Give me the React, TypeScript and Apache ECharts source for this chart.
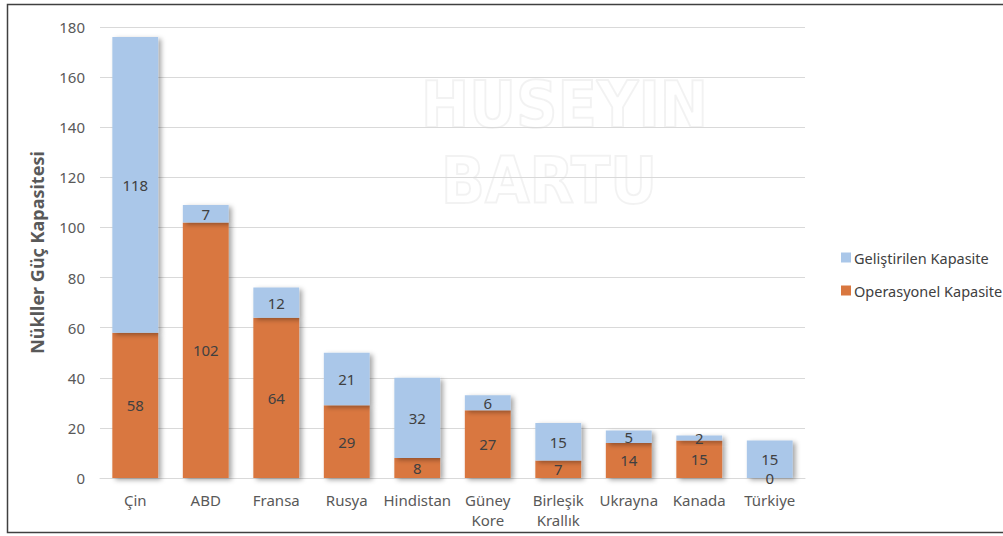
import React, { useEffect, useRef } from "react";
import * as echarts from "echarts";

const categories = ["Çin", "ABD", "Fransa", "Rusya", "Hindistan", "Güney\nKore", "Birleşik\nKrallık", "Ukrayna", "Kanada", "Türkiye"];
const operasyonel = [58, 102, 64, 29, 8, 27, 7, 14, 15, 0];
const gelistirilen = [118, 7, 12, 21, 32, 6, 15, 5, 2, 15];
const yTicks = { min: 0, max: 180, interval: 20 };

const FONT = "'Noto Sans', 'DejaVu Sans', sans-serif";

export default function App() {
  const ref = useRef<HTMLDivElement>(null);
  useEffect(() => {
    document.body.style.margin = "0";
    const chart = echarts.init(ref.current!, null, { renderer: "svg" });
    const shadow = {
      shadowColor: "rgba(0,0,0,0.35)",
      shadowBlur: 5,
      shadowOffsetX: 3,
      shadowOffsetY: 2,
    };
    const label = {
      show: true,
      position: "inside",
      color: "#404040",
      fontSize: 15,
      fontFamily: FONT,
    };
    const wm = {
      fontSize: 64,
      fontWeight: "bold",
      fontFamily: "'Liberation Sans Narrow', 'DejaVu Sans Condensed', sans-serif",
      fill: "rgba(0,0,0,0)",
      stroke: "rgba(0,0,0,0.05)",
      lineWidth: 2,
    };
    chart.setOption({
      animation: false,
      backgroundColor: "#fff",
      textStyle: { fontFamily: FONT },
      grid: { left: 100, right: 198, top: 27, bottom: 58, containLabel: false },
      legend: {
        orient: "vertical",
        left: 836,
        top: 245,
        itemWidth: 10,
        itemHeight: 10,
        itemGap: 18,
        icon: "rect",
        textStyle: { color: "#404040", fontSize: 14.5, fontFamily: FONT, padding: [0, 0, 0, -2] },
        data: ["Geliştirilen Kapasite", "Operasyonel Kapasite"],
      },
      graphic: [
        { type: "text", left: 420, top: 72, silent: true, z: -1, style: { text: "HUSEYIN", ...wm } },
        { type: "text", left: 440, top: 148, silent: true, z: -1, style: { text: "BARTU", ...wm } },
        {
          type: "rect",
          left: 5,
          top: 2,
          silent: true,
          shape: { width: 1010, height: 528 },
          style: { fill: "none", stroke: "#404040", lineWidth: 1.5 },
        },
      ],
      xAxis: {
        type: "category",
        data: categories,
        axisLine: { show: true, lineStyle: { color: "#d9d9d9" } },
        axisTick: { show: false },
        axisLabel: { color: "#595959", fontSize: 15, fontFamily: FONT, margin: 12, lineHeight: 20, interval: 0 },
      },
      yAxis: {
        type: "value",
        min: yTicks.min,
        max: yTicks.max,
        interval: yTicks.interval,
        name: "Nükller Güç Kapasitesi",
        nameLocation: "middle",
        nameGap: 54,
        nameTextStyle: { color: "#595959", fontSize: 18, fontWeight: "bold", fontFamily: FONT },
        axisLine: { show: false },
        axisTick: { show: false },
        axisLabel: { color: "#595959", fontSize: 15, fontFamily: FONT, margin: 15 },
        splitLine: { lineStyle: { color: "#d9d9d9" } },
      },
      series: [
        {
          name: "Operasyonel Kapasite",
          type: "bar",
          stack: "total",
          barWidth: "65%",
          data: operasyonel,
          itemStyle: { color: "#D9773F", ...shadow },
          label,
        },
        {
          name: "Geliştirilen Kapasite",
          type: "bar",
          stack: "total",
          barWidth: "65%",
          data: gelistirilen,
          itemStyle: { color: "#AAC7E9", ...shadow },
          label,
        },
      ],
    });
    return () => chart.dispose();
  }, []);
  return <div ref={ref} style={{ width: 1003, height: 536 }} />;
}
